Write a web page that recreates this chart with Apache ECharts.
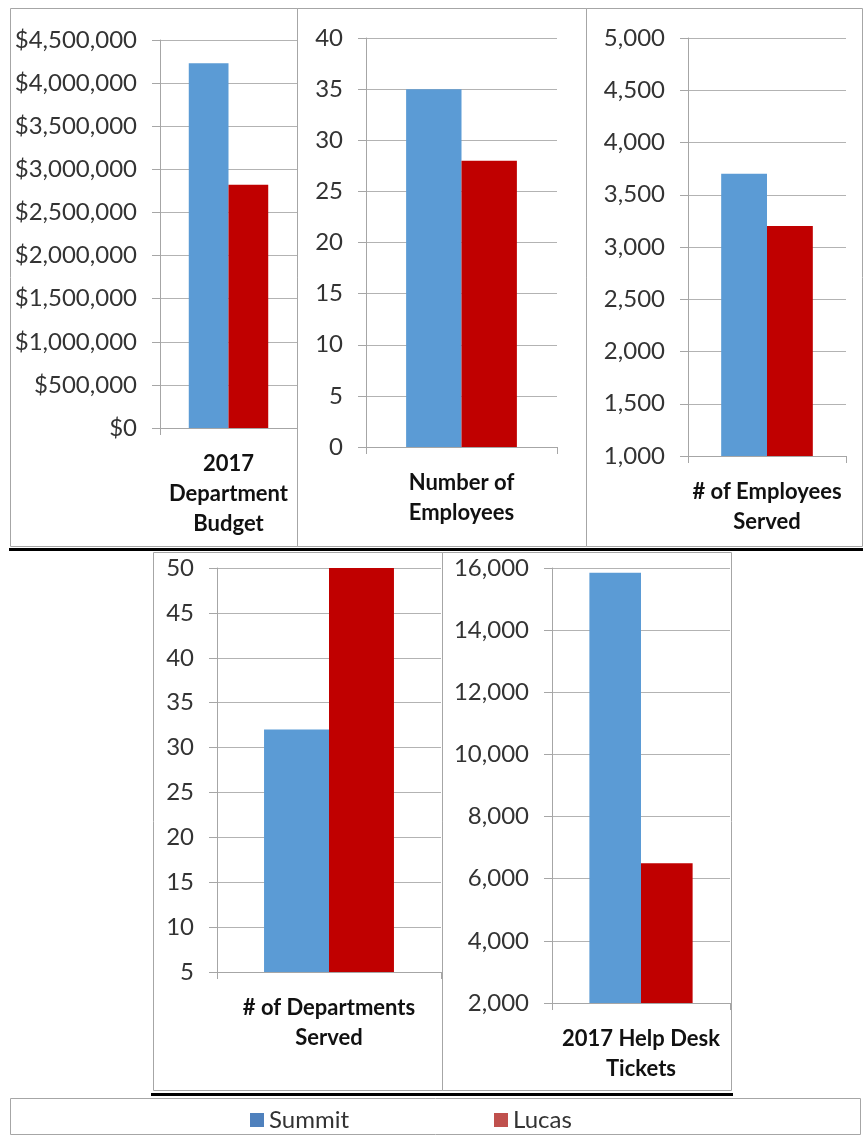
<!DOCTYPE html>
<html>
<head>
<meta charset="utf-8">
<script src="https://cdn.jsdelivr.net/npm/echarts@6/dist/echarts.min.js"></script>
<style>
  html, body { margin: 0; padding: 0; background: #fff; }
  #chart { width: 863px; height: 1136px; }
</style>
</head>
<body>
<div id="chart"></div>
<script>
// data
const categories = [
  "2017\nDepartment\nBudget",
  "Number of\nEmployees",
  "# of Employees\nServed",
  "# of Departments\nServed",
  "2017 Help Desk\nTickets",
];
const summit = [4230000, 35, 3700, 32, 15850];
const lucas = [2820000, 28, 3200, 50, 6500];
const axisMin = [0, 0, 1000, 5, 2000];
const axisMax = [4500000, 40, 5000, 50, 16000];
const axisStep = [500000, 5, 500, 5, 2000];

const FONT = "Lato";
const GREY = "#a6a6a6";

// plot boxes for each small chart
const grids = [
  { left: 160, top: 40, width: 137, height: 388 },
  { left: 366, top: 38, width: 191, height: 409 },
  { left: 688, top: 38, width: 158, height: 418 },
  { left: 217, top: 568, width: 224, height: 404 },
  { left: 552, top: 568, width: 178, height: 435 },
];

const fmt = (i) => (v) => {
  if (i === 0) return "$" + v.toLocaleString("en-US");
  if (i === 2 || i === 4) return v.toLocaleString("en-US");
  return String(v);
};

const xAxis = categories.map((c, i) => ({
  type: "category",
  gridIndex: i,
  data: [c],
  axisLine: { lineStyle: { color: GREY } },
  axisTick: { show: true, length: 7, lineStyle: { color: GREY } },
  axisLabel: {
    fontFamily: FONT,
    fontWeight: "bold",
    fontSize: 22,
    lineHeight: 30,
    color: "#111",
    margin: 21,
    interval: 0,
  },
}));

const yAxis = categories.map((c, i) => ({
  type: "value",
  gridIndex: i,
  min: axisMin[i],
  max: axisMax[i],
  interval: axisStep[i],
  axisLine: { show: true, lineStyle: { color: GREY } },
  axisTick: { show: true, length: 8, lineStyle: { color: GREY } },
  splitLine: { lineStyle: { color: "#b3b3b3" } },
  axisLabel: {
    fontFamily: FONT,
    fontSize: 24,
    color: "#333",
    margin: 23,
    formatter: fmt(i),
  },
}));

const series = [];
categories.forEach((c, i) => {
  series.push({
    name: "Summit",
    type: "bar",
    xAxisIndex: i,
    yAxisIndex: i,
    data: [summit[i]],
    barGap: 0,
    barCategoryGap: "42%",
    itemStyle: { color: "#5b9bd5" },
  });
  series.push({
    name: "Lucas",
    type: "bar",
    xAxisIndex: i,
    yAxisIndex: i,
    data: [lucas[i]],
    barGap: 0,
    barCategoryGap: "42%",
    itemStyle: { color: "#c00000" },
  });
});

const frame = (x1, y1, x2, y2) => ({
  type: "rect",
  shape: { x: x1 + 0.5, y: y1 + 0.5, width: x2 - x1, height: y2 - y1 },
  style: { fill: null, stroke: GREY, lineWidth: 1 },
  z: -1,
});

const blackLine = (x1, x2, y) => ({
  type: "line",
  shape: { x1: x1, y1: y, x2: x2, y2: y },
  style: { stroke: "#000", lineWidth: 3 },
});

const chart = echarts.init(document.getElementById("chart"));
chart.setOption({
  animation: false,
  grid: grids,
  xAxis: xAxis,
  yAxis: yAxis,
  series: series,
  legend: {
    left: 245,
    top: 1103,
    itemWidth: 14,
    itemHeight: 14,
    itemGap: 145,
    icon: "rect",
    textStyle: { fontFamily: FONT, fontSize: 24, color: "#333" },
    data: [
      { name: "Summit", itemStyle: { color: "#4f81bd" } },
      { name: "Lucas", itemStyle: { color: "#c0504d" } },
    ],
  },
  graphic: [
    frame(10, 8, 297, 546),
    frame(297, 8, 586, 546),
    frame(586, 8, 862, 546),
    frame(153, 552, 442, 1090),
    frame(442, 552, 731, 1090),
    frame(10, 1098, 860, 1134),
    blackLine(9, 863, 549.5),
    blackLine(151, 733, 1094.5),
  ],
});
</script>
</body>
</html>
